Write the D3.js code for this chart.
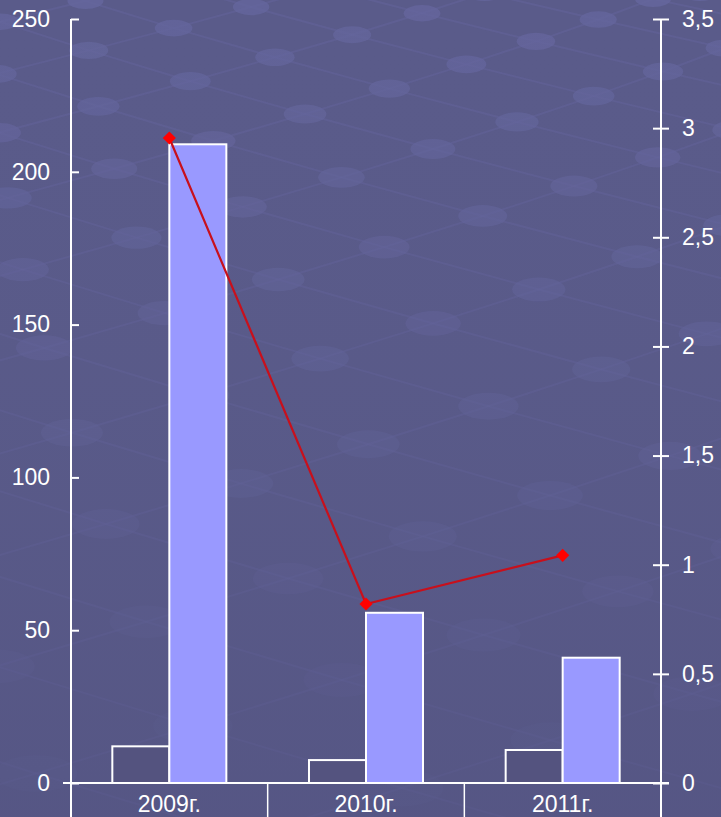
<!DOCTYPE html>
<html>
<head>
<meta charset="utf-8">
<script src="https://cdn.jsdelivr.net/npm/d3@7"></script>
<style>
html,body{margin:0;padding:0;background:#5a5b8a;}
svg{display:block;}
text{font-family:"Liberation Sans",Arial,sans-serif;fill:#fff;}
</style>
</head>
<body>
<svg id="chart" width="721" height="817"></svg>
<script>
const categories = ["2009г.", "2010г.", "2011г."];
const seriesNames = ["Ряд 1", "Ряд 2"];
const series1 = [12, 7.5, 10.8];
const series2 = [209, 55.7, 41];
const lineValues = [2.955, 0.82, 1.043];
const leftTicks = [0, 50, 100, 150, 200, 250];
const rightTicks = [0, 0.5, 1, 1.5, 2, 2.5, 3, 3.5];

const W = 721, H = 817;
const svg = d3.select("#chart");

// ---- decorative background texture (lattice of faint lines and discs) ----
svg.append("rect").attr("width",W).attr("height",H).attr("fill","#5a5b8a");
const tex = svg.append("g").attr("class","texture");
const warp = (x,y) => {
  const yy = y + y*y/650;
  const xx = 300 + (x-300)*(1 + y/380);
  return [xx, yy];
};
const A = [96, 26], B = [70, -20];
const pt = (i,j) => warp(-150 + i*A[0] + j*B[0], 15 + i*A[1] + j*B[1]);
const N = 16;
const lineGen = d3.line();
for (let k=-N; k<=N; k++) {
  const ra = [], rb = [];
  for (let t=-N; t<=N; t++) { ra.push(pt(t,k)); rb.push(pt(k,t)); }
  tex.append("path").attr("d",lineGen(ra)).attr("fill","none").attr("stroke","#6667a0").attr("stroke-width",2).attr("opacity",0.4);
  tex.append("path").attr("d",lineGen(rb)).attr("fill","none").attr("stroke","#6667a0").attr("stroke-width",2).attr("opacity",0.4);
}
for (let i=-N; i<=N; i++) for (let j=-N; j<=N; j++) {
  const p = pt(i,j);
  if (p[0] < -60 || p[0] > W+60 || p[1] < -40 || p[1] > H+40) continue;
  const s = 1 + Math.max(0,p[1])/600;
  tex.append("ellipse").attr("cx",p[0]).attr("cy",p[1]).attr("rx",18*s).attr("ry",8*s)
    .attr("fill","#65669d").attr("opacity",Math.max(0.25, 0.8 - p[1]/1300));
}
const defs = svg.append("defs");
const grad = defs.append("linearGradient").attr("id","shade").attr("x1",0).attr("y1",0).attr("x2",0).attr("y2",1);
grad.append("stop").attr("offset","0").attr("stop-color","#5a5b8a").attr("stop-opacity",0);
grad.append("stop").attr("offset","1").attr("stop-color","#525280").attr("stop-opacity",0.55);
svg.append("rect").attr("width",W).attr("height",H).attr("fill","url(#shade)");

// ---- scales ----
const x0 = d3.scaleBand().domain(categories).range([71, 661]).paddingInner(0).paddingOuter(0);
const x1 = d3.scaleBand().domain(seriesNames).range([0, x0.bandwidth()]).paddingInner(0).paddingOuter(0.725);
const yL = d3.scaleLinear().domain([0, 250]).range([783, 19]);
const yR = d3.scaleLinear().domain([0, 3.5]).range([783, 19]);

// ---- bars ----
const data = categories.map((c,i)=>({c, vals:[{s:seriesNames[0],v:series1[i]},{s:seriesNames[1],v:series2[i]}]}));
const fills = {"Ряд 1":"#54537f","Ряд 2":"#9999ff"};
const g = svg.append("g");
g.selectAll("g.cat").data(data).join("g").attr("class","cat")
  .attr("transform",d=>`translate(${x0(d.c)},0)`)
  .selectAll("rect").data(d=>d.vals).join("rect")
  .attr("x",d=>x1(d.s)).attr("width",x1.bandwidth())
  .attr("y",d=>yL(d.v)).attr("height",d=>yL(0)-yL(d.v))
  .attr("fill",d=>fills[d.s]).attr("stroke","#ffffff").attr("stroke-width",2);

// ---- axes ----
const leftAxis = d3.axisLeft(yL).tickValues(leftTicks).tickSize(8).tickPadding(13).tickFormat(d=>d);
const la = svg.append("g").attr("transform","translate(71,0)").call(leftAxis);
la.selectAll(".tick line").attr("x2",8);
const rightAxis = d3.axisRight(yR).tickValues(rightTicks).tickSize(8).tickPadding(13)
  .tickFormat(d=>String(d).replace(".",","));
const ra = svg.append("g").attr("transform","translate(661,0)").call(rightAxis);
ra.selectAll(".tick line").attr("x1",-8);
[la,ra].forEach(a=>{
  a.select(".domain").attr("stroke","#fff").attr("stroke-width",2).attr("d",`M0,19V817`);
  a.selectAll(".tick line").attr("stroke","#fff").attr("stroke-width",2);
  a.selectAll(".tick text").attr("fill","#fff").style("font-size","23px").style("font-family","'Liberation Sans',Arial,sans-serif");
});

// x axis
const xa = svg.append("g").attr("transform","translate(0,783)");
xa.append("line").attr("x1",63).attr("x2",669).attr("y1",0).attr("y2",0).attr("stroke","#fff").attr("stroke-width",2);
const seps = categories.map(c=>x0(c)).concat([x0(categories[categories.length-1])+x0.bandwidth()]);
xa.selectAll("line.sep").data(seps).join("line").attr("class","sep")
  .attr("x1",d=>d).attr("x2",d=>d).attr("y1",0).attr("y2",40).attr("stroke","#fff").attr("stroke-width",1.5);
xa.selectAll("text").data(categories).join("text")
  .attr("x",d=>x0(d)+x0.bandwidth()/2).attr("y",29).attr("text-anchor","middle")
  .style("font-size","23px").text(d=>d);

// ---- line series ----
const pts = categories.map((c,i)=>[x0(c)+x0.bandwidth()/2, yR(lineValues[i])]);
svg.append("path").attr("d",d3.line()(pts)).attr("fill","none").attr("stroke","#c8101c").attr("stroke-width",2.2);
svg.selectAll("path.mk").data(pts).join("path").attr("class","mk")
  .attr("transform",d=>`translate(${d[0]},${d[1]})`)
  .attr("d",d3.symbol(d3.symbolDiamond2 || d3.symbolDiamond, 110)())
  .attr("fill","#ff0000");
</script>
</body>
</html>
